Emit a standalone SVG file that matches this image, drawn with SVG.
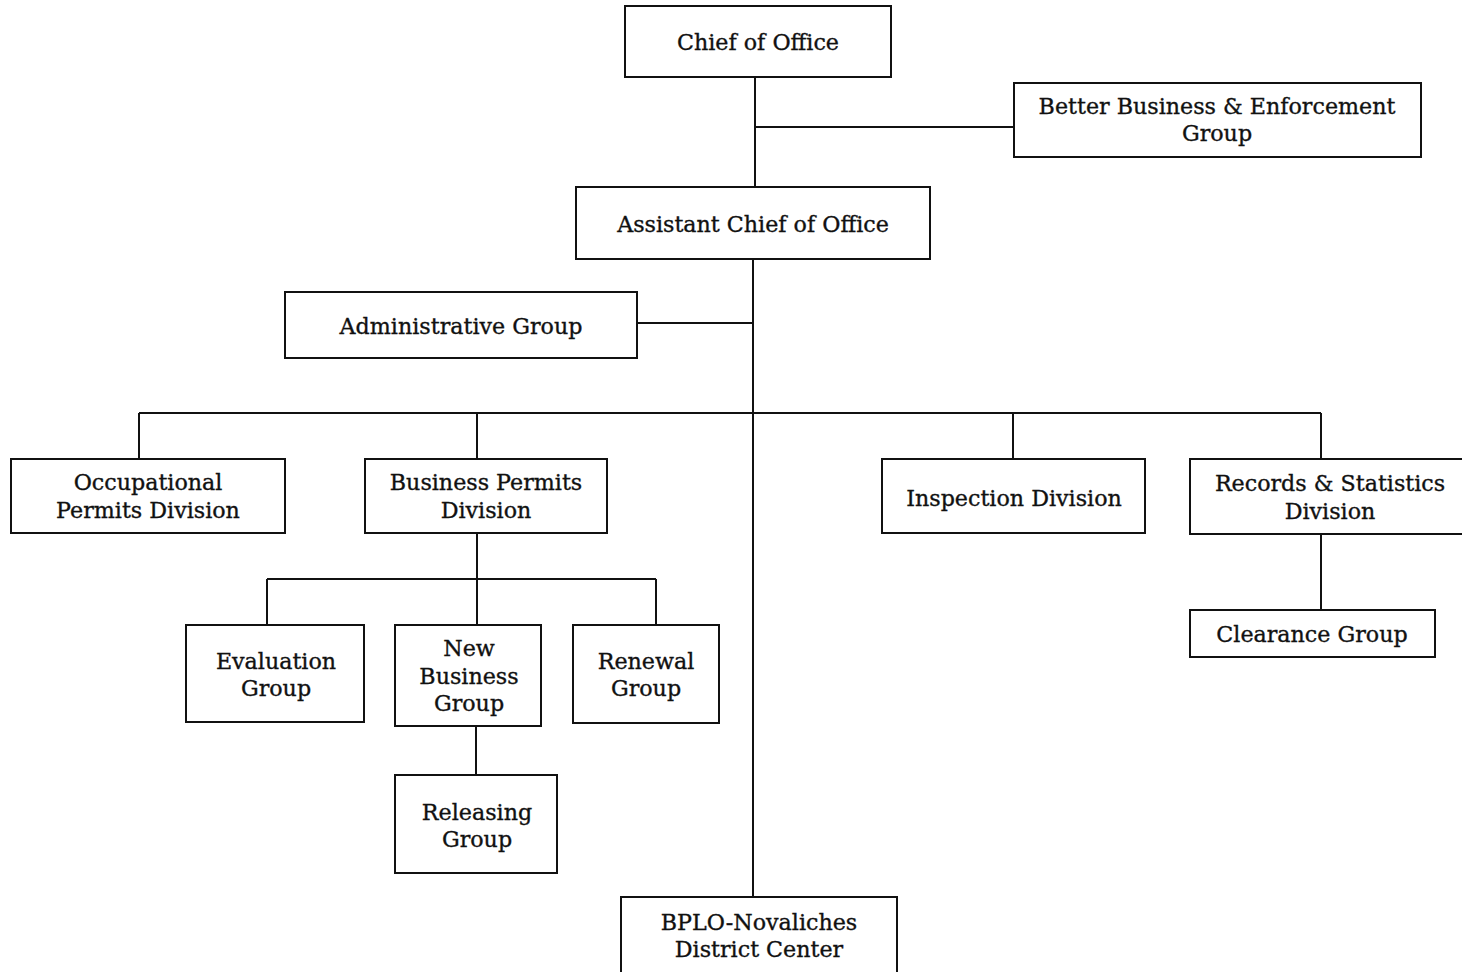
<svg xmlns="http://www.w3.org/2000/svg" width="1462" height="972" viewBox="0 0 1462 972">
<style>
.box{fill:#fff;stroke:#111;stroke-width:2}
.t{font-family:"DejaVu Serif","Liberation Serif",serif;font-size:22.2px;fill:#111;stroke:#111;stroke-width:0.35;text-anchor:middle}
.c{stroke:#111;stroke-width:2;fill:none}
</style>
<rect width="1462" height="972" fill="#fff"/>
<g id="connectors">
<path class="c" d="M755 77V187M755 127H1014"/>
<path class="c" d="M753 259V897M637 323H753"/>
<path class="c" d="M139 413H1321M139 413V459M477 413V459M1013 413V459M1321 413V459"/>
<path class="c" d="M1321 534V610"/>
<path class="c" d="M477 533V625M267 579H656M267 579V625M656 579V625"/>
<path class="c" d="M476 726V775"/>
</g>
<g id="chief"><rect class="box" x="625" y="6" width="266" height="71"/><text class="t" x="758" y="50">Chief of Office</text></g>
<g id="bbeg"><rect class="box" x="1014" y="83" width="407" height="74"/><text class="t" x="1217" y="114">Better Business &amp; Enforcement</text><text class="t" x="1217" y="141">Group</text></g>
<g id="assistant"><rect class="box" x="576" y="187" width="354" height="72"/><text class="t" x="753" y="232">Assistant Chief of Office</text></g>
<g id="admin"><rect class="box" x="285" y="292" width="352" height="66"/><text class="t" x="461" y="334">Administrative Group</text></g>
<g id="occupational"><rect class="box" x="11" y="459" width="274" height="74"/><text class="t" x="148" y="490">Occupational</text><text class="t" x="148" y="518">Permits Division</text></g>
<g id="business"><rect class="box" x="365" y="459" width="242" height="74"/><text class="t" x="486" y="490">Business Permits</text><text class="t" x="486" y="518">Division</text></g>
<g id="inspection"><rect class="box" x="882" y="459" width="263" height="74"/><text class="t" x="1014" y="506">Inspection Division</text></g>
<g id="records"><rect class="box" x="1190" y="459" width="280" height="75"/><text class="t" x="1330" y="491">Records &amp; Statistics</text><text class="t" x="1330" y="519">Division</text></g>
<g id="clearance"><rect class="box" x="1190" y="610" width="245" height="47"/><text class="t" x="1312" y="642">Clearance Group</text></g>
<g id="evaluation"><rect class="box" x="186" y="625" width="178" height="97"/><text class="t" x="276" y="669">Evaluation</text><text class="t" x="276" y="696">Group</text></g>
<g id="newbusiness"><rect class="box" x="395" y="625" width="146" height="101"/><text class="t" x="469" y="656">New</text><text class="t" x="469" y="684">Business</text><text class="t" x="469" y="711">Group</text></g>
<g id="renewal"><rect class="box" x="573" y="625" width="146" height="98"/><text class="t" x="646" y="669">Renewal</text><text class="t" x="646" y="696">Group</text></g>
<g id="releasing"><rect class="box" x="395" y="775" width="162" height="98"/><text class="t" x="477" y="820">Releasing</text><text class="t" x="477" y="847">Group</text></g>
<g id="bplo"><rect class="box" x="621" y="897" width="276" height="80"/><text class="t" x="759" y="930">BPLO-Novaliches</text><text class="t" x="759" y="957">District Center</text></g>
</svg>
